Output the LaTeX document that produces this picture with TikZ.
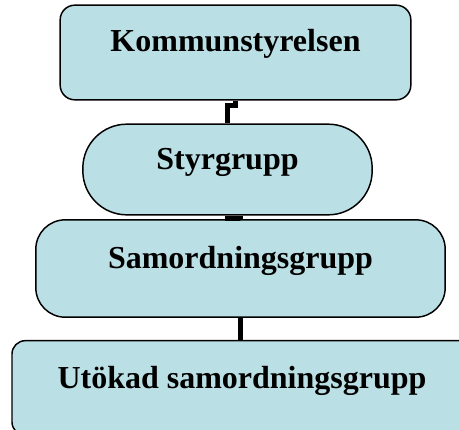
\documentclass[tikz,border=0pt]{standalone}
\usepackage{fontspec}
\setmainfont{Liberation Serif}
\usepackage{tikz}
\definecolor{boxblue}{RGB}{186,223,228}

\tikzset{
  orgbox/.style={draw=black, line width=1.1pt, fill=boxblue, inner sep=0pt,
    font=\fontsize{24}{28}\selectfont\bfseries, text height=12pt, text depth=12pt},
  orgline/.style={line width=3.8pt, black},
}

\begin{document}
\begin{tikzpicture}[x=0.75pt,y=0.75pt,yscale=-1,xscale=1]
\useasboundingbox (0,0) rectangle (459,429);

% Boxes
\node [orgbox, rounded corners=11pt, minimum width=263pt, minimum height=71pt, text depth=14pt] (kommun) at (235.5,52.5) {Kommunstyrelsen};
\node [orgbox, rounded corners=33pt, minimum width=217pt, minimum height=68pt] (styr) at (227.5,169.5) {Styrgrupp};
\node [orgbox, rounded corners=22pt, minimum width=307pt, minimum height=73pt] (samord) at (240.5,268.5) {Samordningsgrupp};
\node [orgbox, rounded corners=10pt, minimum width=345pt, minimum height=71pt] (utokad) at (242,388) {Utökad samordningsgrupp};

% Connectors
\draw [orgline] (kommun.south) -- ++(0,5) -| (styr.north);
\draw [orgline] (styr.south) -- ++(0,2.5) -| (samord.north);
\draw [orgline] (samord.south) -- (samord.south |- utokad.north);

\end{tikzpicture}
\end{document}
